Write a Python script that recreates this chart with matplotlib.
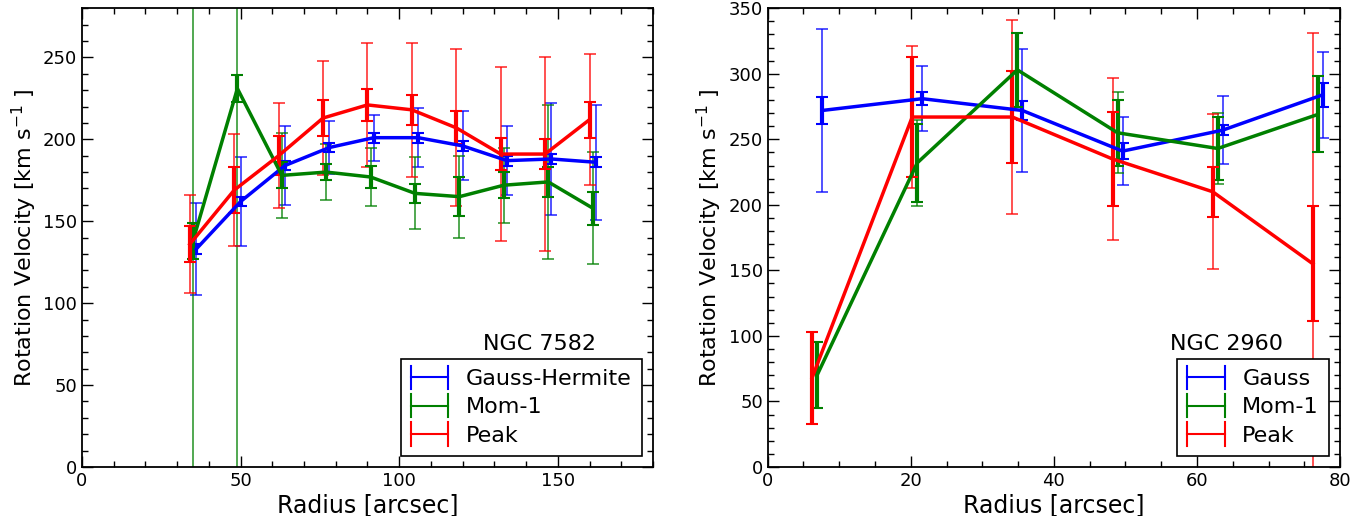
import matplotlib
matplotlib.use('Agg')
import matplotlib.pyplot as plt
import numpy as np
from matplotlib.lines import Line2D
from matplotlib.legend_handler import HandlerBase
from matplotlib.ticker import MultipleLocator

# NGC 7582 (left)
r7582 = np.array([34, 48, 62, 76, 90, 104, 118, 132, 146, 160])
peak_7582 = [136, 169, 190, 213, 221, 218, 207, 191, 191, 212]
peak_7582_sys = [11, 14, 12, 11, 10, 9, 10, 10, 9, 11]
peak_7582_err = [30, 34, 32, 35, 38, 41, 48, 53, 59, 40]
mom_7582 = [138, 231, 178, 180, 177, 167, 165, 172, 174, 158]
mom_7582_sys = [11, 8, 8, 5, 7, 6, 12, 8, 9, 10]
mom_7582_err = [1000, 1000, 26, 17, 18, 22, 25, 23, 47, 34]
gh_7582 = [133, 162, 184, 195, 201, 201, 196, 187, 188, 186]
gh_7582_sys = [3, 3, 3, 3, 3, 3, 3, 3, 3, 3]
gh_7582_err = [28, 27, 24, 16, 14, 18, 21, 21, 34, 35]

# NGC 2960 (right)
r2960 = np.array([6.2, 20.2, 34.2, 48.2, 62.2, 76.2])
peak_2960 = [68, 267, 267, 235, 210, 155]
peak_2960_sys = [35, 46, 35, 36, 19, 44]
peak_2960_err = [35, 54, 74, 62, 59, 176]
mom_2960 = [70, 232, 303, 255, 243, 269]
mom_2960_sys = [25, 30, 28, 25, 24, 29]
mom_2960_err = [25, 33, 28, 31, 27, 29]
g_2960 = [272, 281, 272, 241, 257, 284]
g_2960_sys = [10, 5, 7, 6, 4, 9]
g_2960_err = [62, 25, 47, 26, 26, 33]


class CapHandler(HandlerBase):
    def create_artists(self, legend, orig_handle, xdescent, ydescent,
                       width, height, fontsize, trans):
        c = orig_handle.get_color()
        y = height / 2.0 - ydescent
        x0 = -xdescent
        x1 = x0 + width
        h = height * 0.75
        arts = [Line2D([x0, x1], [y, y], color=c, lw=1.5),
                Line2D([x0, x0], [y - h, y + h], color=c, lw=1.5),
                Line2D([x1, x1], [y - h, y + h], color=c, lw=1.5)]
        for a in arts:
            a.set_transform(trans)
        return arts


def panel(ax, x, dx, sets, xmax, ymax, xmaj, xmin):
    handles = []
    for (y, sys, err, color, label), off in zip(sets, [2 * dx, dx, 0]):
        xx = x + off
        ax.errorbar(xx, y, yerr=err, fmt='none', ecolor=color, elinewidth=1.2,
                    capsize=4, capthick=1.2, alpha=0.8, zorder=2)
        ax.errorbar(xx, y, yerr=sys, fmt='none', ecolor=color, elinewidth=3,
                    capsize=4, capthick=1.5, zorder=3)
        ax.plot(xx, y, color=color, lw=2.5, zorder=4)
        handles.append(Line2D([], [], color=color, label=label))
    ax.set_xlim(0, xmax)
    ax.set_ylim(0, ymax)
    ax.xaxis.set_major_locator(MultipleLocator(xmaj))
    ax.xaxis.set_minor_locator(MultipleLocator(xmin))
    ax.yaxis.set_major_locator(MultipleLocator(50))
    ax.yaxis.set_minor_locator(MultipleLocator(10))
    ax.tick_params(which='both', direction='in', top=True, right=True, labelsize=13)
    ax.tick_params(which='major', length=8, width=1)
    ax.tick_params(which='minor', length=4, width=1)
    for s in ax.spines.values():
        s.set_linewidth(1.3)
    ax.set_xlabel('Radius [arcsec]', fontsize=17, labelpad=2)
    ax.set_ylabel('Rotation Velocity [km s$^{-1}$ ]', fontsize=16, labelpad=3)
    leg = ax.legend(handles=handles, loc='lower right', fontsize=16,
                    handler_map={Line2D: CapHandler()}, fancybox=False,
                    edgecolor='black', framealpha=1, handlelength=1.7,
                    borderaxespad=0.5, labelspacing=0.38, handletextpad=0.8,
                    borderpad=0.45)
    leg.get_frame().set_linewidth(1.2)
    return leg


fig = plt.figure(figsize=(13.66, 5.16), dpi=100)
ax1 = fig.add_axes([0.060, 0.095, 0.418, 0.889])
ax2 = fig.add_axes([0.562, 0.095, 0.419, 0.889])

panel(ax1, r7582, 1.0,
      [(gh_7582, gh_7582_sys, gh_7582_err, 'b', 'Gauss-Hermite'),
       (mom_7582, mom_7582_sys, mom_7582_err, 'g', 'Mom-1'),
       (peak_7582, peak_7582_sys, peak_7582_err, 'r', 'Peak')],
      180, 280, 50, 10)
ax1.text(0.802, 0.255, 'NGC 7582', transform=ax1.transAxes, ha='center',
         va='baseline', fontsize=16)

panel(ax2, r2960, 0.7,
      [(g_2960, g_2960_sys, g_2960_err, 'b', 'Gauss'),
       (mom_2960, mom_2960_sys, mom_2960_err, 'g', 'Mom-1'),
       (peak_2960, peak_2960_sys, peak_2960_err, 'r', 'Peak')],
      80, 350, 20, 5)
ax2.text(0.801, 0.255, 'NGC 2960', transform=ax2.transAxes, ha='center',
         va='baseline', fontsize=16)

fig.savefig('out.png', dpi=100)
